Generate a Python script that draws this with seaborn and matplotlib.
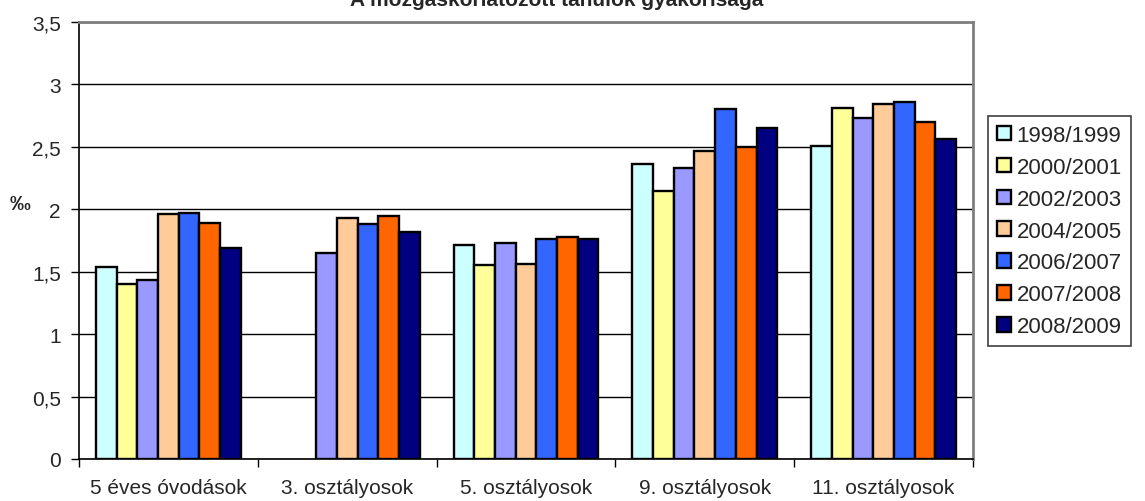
import pandas as pd
import matplotlib.pyplot as plt
import seaborn as sns
import numpy as np

# Data
groups = ['5 éves óvodások', '3. osztályosok', '5. osztályosok', '9. osztályosok', '11. osztályosok']
years = ['1998/1999', '2000/2001', '2002/2003', '2004/2005', '2006/2007', '2007/2008', '2008/2009']
v_1998 = [1.54, np.nan, 1.71, 2.36, 2.51]
v_2000 = [1.40, np.nan, 1.55, 2.15, 2.81]
v_2002 = [1.43, 1.65, 1.73, 2.33, 2.73]
v_2004 = [1.96, 1.93, 1.56, 2.47, 2.84]
v_2006 = [1.97, 1.88, 1.76, 2.80, 2.86]
v_2007 = [1.89, 1.95, 1.78, 2.50, 2.70]
v_2008 = [1.69, 1.82, 1.76, 2.65, 2.56]
y_ticks = [0, 0.5, 1, 1.5, 2, 2.5, 3, 3.5]
y_tick_labels = ['0', '0,5', '1', '1,5', '2', '2,5', '3', '3,5']
title = 'A mozgáskorlátozott tanulók gyakorisága'

colors = ['#CCFFFF', '#FFFF99', '#9999FF', '#FFCC99', '#3366FF', '#FF6600', '#000080']

series = [v_1998, v_2000, v_2002, v_2004, v_2006, v_2007, v_2008]
rows = []
for year, vals in zip(years, series):
    for g, v in zip(groups, vals):
        rows.append({'csoport': g, 'tanév': year, 'érték': v})
df = pd.DataFrame(rows)

sns.set_style('white')
plt.rcParams['font.family'] = ['Liberation Sans', 'DejaVu Sans']

fig = plt.figure(figsize=(11.45, 5.02), dpi=100)
ax = fig.add_axes([79 / 1145, 42 / 502, (973 - 79) / 1145, (460 - 23) / 502])

sns.barplot(data=df, x='csoport', y='érték', hue='tanév', order=groups, hue_order=years,
            palette=colors, width=0.81, gap=0, edgecolor='black', linewidth=1.7,
            saturation=1, ax=ax, legend=True)

ax.set_ylim(0, 3.5)
ax.set_xlim(-0.5, len(groups) - 0.5)
ax.set_yticks(y_ticks)
ax.set_yticklabels(y_tick_labels, fontsize=15)
ax.set_xticks(range(len(groups)))
ax.set_xticklabels(groups, fontsize=15)
ax.set_xticks(np.arange(-0.5, len(groups)), minor=True)
ax.tick_params(axis='x', which='major', length=0, pad=14)
ax.tick_params(axis='x', which='minor', length=6, width=1, color='black', direction='out', bottom=True)
ax.tick_params(axis='y', length=6, width=1, color='black', direction='out', left=True, pad=7)
ax.set_xlabel('')
ax.set_ylabel('')
ax.yaxis.grid(True, color='black', linewidth=1)
ax.set_axisbelow(True)

for side in ['left', 'bottom']:
    ax.spines[side].set_color('black')
    ax.spines[side].set_linewidth(1.2)
for side in ['top', 'right']:
    ax.spines[side].set_color('#808080')
    ax.spines[side].set_linewidth(2)

handles, labels = ax.get_legend_handles_labels()
ax.legend(handles, labels, loc='upper left', bbox_to_anchor=(988 / 1145, 1 - 117 / 502),
          bbox_transform=fig.transFigure, fontsize=16, frameon=True, fancybox=False,
          edgecolor='#404040', framealpha=1, handlelength=0.63, handleheight=0.63,
          handletextpad=0.25, labelspacing=0.49, borderpad=0.4, borderaxespad=0)
ax.get_legend().get_frame().set_linewidth(1.2)

fig.text(20 / 1145, 1 - 210 / 502, '‰', ha='center', va='baseline', fontsize=15, fontweight='bold')
fig.text(557 / 1145, 1 - 6.5 / 502, title, ha='center', va='baseline', fontsize=15, fontweight='bold')

fig.savefig('out.png', dpi=100)
